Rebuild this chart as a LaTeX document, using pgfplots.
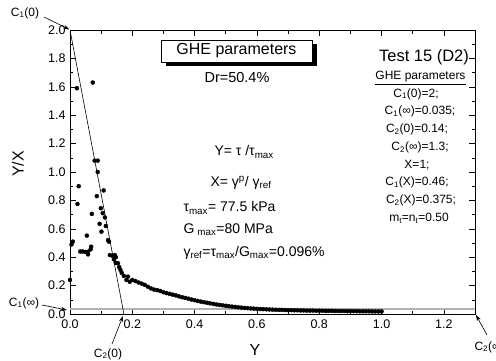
\documentclass[border=0pt]{standalone}
\usepackage{fontspec}
\setmainfont{Liberation Sans}
\usepackage{pgfplots}
\usepackage{pgfplotstable}
\pgfplotsset{compat=1.18}
\usetikzlibrary{arrows.meta}
\pgfplotstableread{
x y
0.000 0.240
0.005 0.490
0.009 0.510
0.022 1.590
0.024 0.775
0.028 0.900
0.033 0.440
0.041 0.440
0.050 0.437
0.054 0.552
0.057 0.437
0.058 0.420
0.066 0.455
0.068 0.474
0.070 0.705
0.073 1.630
0.079 1.080
0.086 0.830
0.089 1.080
0.089 1.000
0.095 0.635
0.099 0.745
0.101 0.580
0.105 0.710
0.108 0.870
0.112 0.680
0.115 0.620
0.122 0.520
0.125 0.510
0.128 0.415
0.136 0.410
0.141 0.385
0.144 0.415
0.147 0.400
0.147 0.360
0.154 0.357
0.158 0.330
0.162 0.310
0.166 0.290
0.173 0.268
0.181 0.240
0.186 0.263
0.192 0.227
0.20 0.240
0.21 0.232
0.22 0.222
0.23 0.214
0.24 0.205
0.25 0.192
0.26 0.180
0.27 0.172
0.28 0.168
0.29 0.162
0.30 0.153
0.31 0.147
0.32 0.142
0.33 0.136
0.34 0.131
0.35 0.124
0.36 0.118
0.37 0.113
0.38 0.108
0.39 0.102
0.40 0.097
0.41 0.092
0.42 0.087
0.43 0.083
0.44 0.079
0.45 0.075
0.46 0.071
0.47 0.067
0.48 0.064
0.49 0.061
0.50 0.058
0.51 0.055
0.52 0.052
0.53 0.050
0.54 0.047
0.55 0.045
0.56 0.043
0.57 0.041
0.58 0.039
0.59 0.038
0.60 0.036
0.61 0.035
0.62 0.034
0.63 0.033
0.64 0.032
0.65 0.031
0.66 0.030
0.67 0.029
0.68 0.029
0.69 0.028
0.70 0.027
0.71 0.027
0.72 0.026
0.73 0.026
0.74 0.025
0.75 0.025
0.76 0.024
0.77 0.024
0.78 0.024
0.79 0.023
0.80 0.023
0.81 0.023
0.82 0.022
0.83 0.022
0.84 0.022
0.85 0.021
0.86 0.021
0.87 0.021
0.88 0.021
0.89 0.020
0.90 0.020
0.91 0.020
0.92 0.020
0.93 0.019
0.94 0.019
0.95 0.019
0.96 0.019
0.97 0.018
0.98 0.018
0.99 0.018
1.00 0.018
}\datatable
\begin{document}
\begin{tikzpicture}[x=1pt,y=1pt]
\useasboundingbox (0,0) rectangle (496,360);
\clip (0,0) rectangle (496,360);
\begin{axis}[
  at={(70pt,46pt)}, anchor=south west,
  width=405pt, height=284pt, scale only axis,
  xmin=0, xmax=1.3, ymin=0, ymax=2.0,
  xtick={0,0.2,0.4,0.6,0.8,1.0,1.2},
  minor xtick={0.1,0.3,0.5,0.7,0.9,1.1},
  ytick={0,0.2,0.4,0.6,0.8,1.0,1.2,1.4,1.6,1.8,2.0},
  minor ytick={0.1,0.3,0.5,0.7,0.9,1.1,1.3,1.5,1.7,1.9},
  tick align=inside, tick pos=both,
  major tick length=6pt, minor tick length=3.5pt,
  tick style={black, line width=0.6pt},
  axis line style={black, line width=0.8pt},
  tick label style={font=\fontsize{12.5}{14}\selectfont,
    /pgf/number format/assume math mode=true,
    /pgf/number format/fixed, /pgf/number format/fixed zerofill,
    /pgf/number format/precision=1},
  xticklabel style={yshift=-2pt},
  yticklabel style={xshift=-1pt},
  clip=true,
]
\addplot[gray!60, line width=1.3pt] coordinates {(0,0.035) (1.3,0.035)};
\addplot[black, line width=0.6pt] coordinates {(0,2.0) (0.173,0)};
\addplot[only marks, mark=*, mark size=2pt, black] table[x=x,y=y] {\datatable};
\end{axis}
% annotations
\node[font=\fontsize{12}{14}\selectfont] at (25,347) {C\textsubscript{1}(0)};
\draw[-{Stealth[length=6pt,width=4pt]}, line width=0.6pt] (44,343) -- (69.5,330.5);
\node[font=\fontsize{12}{14}\selectfont] at (24,57) {C\textsubscript{1}(∞)};
\draw[-{Stealth[length=6pt,width=4pt]}, line width=0.6pt] (42,55) -- (67,50);
\node[font=\fontsize{12}{14}\selectfont] at (108,6) {C\textsubscript{2}(0)};
\draw[-{Stealth[length=6pt,width=4pt]}, line width=0.6pt] (112,16) -- (123,44);
\node[anchor=west, font=\fontsize{12}{14}\selectfont] at (471,13) {C\textsubscript{2}(∞)};
\draw[-{Stealth[length=6pt,width=4pt]}, line width=0.6pt] (487,25) -- (476,45);
\node[rotate=90, font=\fontsize{16}{18}\selectfont] at (18,196) {Y/X};
\node[font=\fontsize{16}{18}\selectfont] at (255,10) {Y};
% GHE box
\fill[black] (165.5,294) rectangle (316.5,316);
\draw[fill=white, line width=0.6pt] (161,298) rectangle (312,320);
\node[font=\fontsize{16}{18}\selectfont] at (236.5,309) {GHE parameters};
\node[font=\fontsize{14.5}{16}\selectfont] at (237,282) {Dr=50.4\%};
% right text block
\node[font=\fontsize{16.5}{18}\selectfont] at (424,303) {Test 15 (D2)};
\node[font=\fontsize{12}{14}\selectfont] at (420.5,282) {\underline{GHE parameters}};
\begin{scope}[every node/.style={font=\fontsize{12}{14}\selectfont}]
\node at (416,266) {C\textsubscript{1}(0)=2;};
\node at (420,248.3) {C\textsubscript{1}(∞)=0.035;};
\node at (417,230.6) {C\textsubscript{2}(0)=0.14;};
\node at (420,212.9) {C\textsubscript{2}(∞)=1.3;};
\node at (417,195.2) {X=1;};
\node at (417,177.5) {C\textsubscript{1}(X)=0.46;};
\node at (421,159.8) {C\textsubscript{2}(X)=0.375;};
\node at (419,142) {m\textsubscript{t}=n\textsubscript{t}=0.50};
\end{scope}
% middle text block
\begin{scope}[every node/.style={font=\fontsize{14}{16}\selectfont, anchor=west}]
\node at (211,208) {Y= τ /τ\textsubscript{max}};
\node at (207,177) {X= γ\textsuperscript{p}/ γ\textsubscript{ref}};
\node at (180,152) {τ\textsubscript{max}= 77.5 kPa};
\node at (180,130) {G\hspace{3pt}\textsubscript{max}=80 MPa};
\node at (180,107) {γ\textsubscript{ref}=τ\textsubscript{max}/G\textsubscript{max}=0.096\%};
\end{scope}
\end{tikzpicture}
\end{document}
